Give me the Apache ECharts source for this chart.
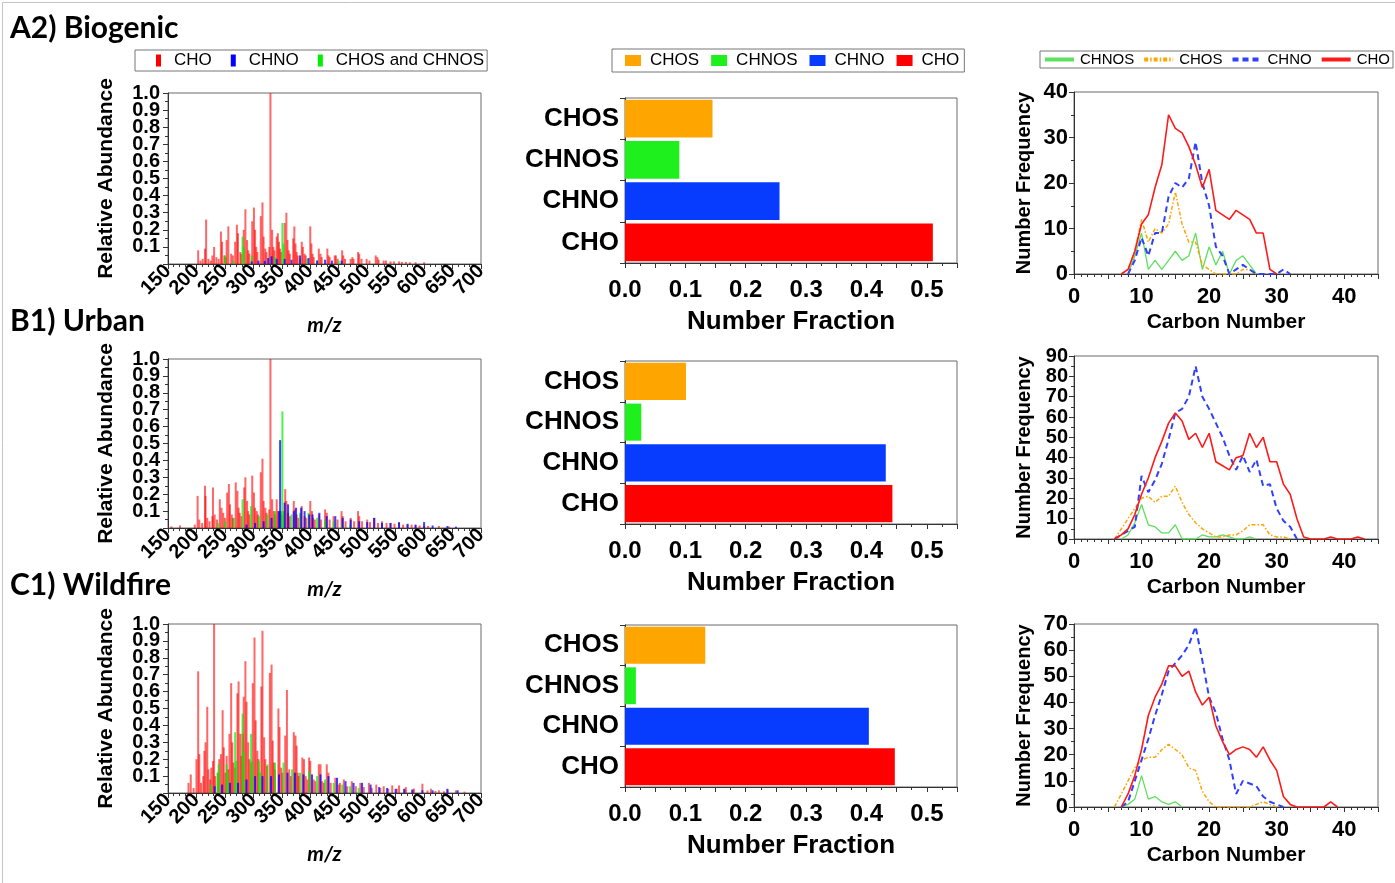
<!DOCTYPE html>
<html><head><meta charset="utf-8">
<script src="https://cdn.jsdelivr.net/npm/echarts@6/dist/echarts.min.js"></script>
<style>html,body{margin:0;padding:0;background:#fff}#c{width:1395px;height:883px}</style>
</head><body><div id="c"></div>
<script>
// ---------------- DATA ----------------
const panelTitles = ['A2) Biogenic', 'B1) Urban', 'C1) Wildfire'];
const specClasses = ['CHO', 'CHNO', 'CHOS and CHNOS'];
const barCategories = ['CHOS', 'CHNOS', 'CHNO', 'CHO'];
const lineClasses = ['CHNOS', 'CHOS', 'CHNO', 'CHO'];

// mass spectra: [m/z, relative abundance]
const specA2_CHO = [[203,0.08],[207,0.02],[211,0.03],[215,0.09],[217,0.26],[221,0.03],[225,0.02],[228,0.05],[231,0.10],[235,0.04],[239,0.03],[243,0.19],[245,0.13],[249,0.05],[251,0.04],[253,0.14],[256,0.22],[261,0.06],[264,0.05],[268,0.13],[271,0.23],[273,0.18],[277,0.07],[279,0.06],[283,0.20],[286,0.32],[289,0.14],[291,0.08],[293,0.06],[298,0.25],[301,0.33],[303,0.20],[305,0.10],[307,0.07],[313,0.28],[316,0.36],[318,0.16],[321,0.09],[323,0.07],[328,0.10],[330,1.00],[333,0.20],[335,0.10],[337,0.08],[341,0.16],[343,0.18],[345,0.13],[347,0.09],[349,0.07],[355,0.24],[358,0.30],[360,0.14],[362,0.08],[364,0.06],[370,0.15],[372,0.22],[374,0.12],[376,0.07],[378,0.05],[385,0.13],[387,0.10],[390,0.06],[392,0.05],[400,0.22],[402,0.12],[404,0.06],[406,0.04],[415,0.09],[418,0.06],[420,0.04],[430,0.09],[432,0.05],[434,0.04],[443,0.05],[445,0.05],[448,0.03],[456,0.08],[458,0.05],[461,0.03],[471,0.03],[474,0.04],[476,0.03],[484,0.07],[486,0.06],[490,0.03],[499,0.03],[504,0.02],[515,0.05],[518,0.04],[520,0.025],[529,0.02],[533,0.02],[541,0.015],[547,0.015],[556,0.015],[561,0.012],[568,0.012],[575,0.01],[585,0.01],[600,0.01]];
const specA2_CHNO = [[297,0.015],[309,0.02],[320,0.018],[326,0.035],[332,0.045],[341,0.03],[355,0.03],[367,0.025],[382,0.05],[397,0.035],[412,0.02],[426,0.025],[438,0.02],[455,0.02]];
const specA2_S = [[250,0.05],[265,0.02],[281,0.16],[283,0.10],[297,0.05],[338,0.04],[351,0.24],[353,0.12],[382,0.03],[395,0.03],[412,0.02],[450,0.02]];

const specB1_CHO = [[156,0.01],[171,0.015],[197,0.02],[202,0.19],[205,0.05],[210,0.03],[215,0.25],[216,0.19],[219,0.06],[223,0.04],[228,0.07],[229,0.24],[232,0.08],[236,0.05],[241,0.17],[244,0.12],[247,0.09],[250,0.06],[254,0.21],[257,0.26],[259,0.14],[262,0.08],[264,0.06],[269,0.27],[272,0.22],[274,0.12],[276,0.09],[279,0.07],[284,0.24],[286,0.30],[289,0.16],[291,0.10],[293,0.08],[298,0.31],[301,0.21],[303,0.12],[306,0.10],[308,0.08],[313,0.33],[316,0.41],[318,0.16],[321,0.12],[323,0.09],[328,0.11],[330,1.00],[333,0.17],[336,0.10],[338,0.08],[341,0.17],[343,0.10],[347,0.10],[350,0.08],[356,0.23],[358,0.16],[361,0.09],[364,0.07],[371,0.16],[373,0.11],[376,0.08],[379,0.06],[385,0.13],[390,0.07],[393,0.06],[400,0.16],[403,0.10],[405,0.06],[408,0.05],[415,0.08],[419,0.05],[426,0.11],[429,0.09],[434,0.05],[441,0.07],[448,0.05],[455,0.10],[457,0.07],[462,0.04],[471,0.06],[477,0.04],[484,0.10],[486,0.07],[491,0.04],[500,0.05],[505,0.035],[513,0.06],[519,0.03],[526,0.04],[534,0.03],[541,0.03],[548,0.025],[556,0.03],[563,0.02],[571,0.02],[578,0.02],[585,0.016],[592,0.015],[600,0.012],[607,0.012],[626,0.012],[644,0.008]];
const specB1_CHNO = [[288,0.02],[303,0.03],[318,0.04],[332,0.06],[345,0.10],[347,0.52],[355,0.15],[361,0.14],[371,0.10],[375,0.12],[384,0.12],[390,0.10],[398,0.08],[404,0.08],[416,0.09],[429,0.07],[444,0.07],[457,0.06],[471,0.05],[486,0.04],[500,0.035],[512,0.06],[526,0.03],[541,0.03],[556,0.035],[571,0.025],[585,0.02],[600,0.035],[615,0.015],[641,0.012],[656,0.008]];
const specB1_S = [[238,0.03],[251,0.04],[266,0.06],[281,0.17],[296,0.13],[310,0.07],[325,0.08],[338,0.10],[349,0.10],[351,0.69],[353,0.10],[367,0.08],[382,0.09],[397,0.09],[412,0.06],[426,0.05],[441,0.04],[456,0.03],[470,0.02]];

const specC1_CHO = [[186,0.06],[190,0.11],[195,0.03],[200,0.20],[203,0.72],[205,0.23],[208,0.06],[212,0.10],[214,0.25],[216,0.30],[219,0.51],[221,0.14],[224,0.08],[226,0.15],[229,0.19],[231,1.00],[233,0.10],[238,0.12],[240,0.20],[243,0.23],[246,0.49],[248,0.27],[251,0.12],[253,0.22],[256,0.14],[258,0.35],[261,0.65],[263,0.30],[265,0.18],[268,0.15],[272,0.59],[274,0.66],[277,0.35],[279,0.22],[281,0.35],[283,0.57],[286,0.78],[288,0.54],[291,0.30],[293,0.20],[296,0.18],[299,0.65],[302,0.92],[304,0.43],[307,0.25],[309,0.20],[314,0.63],[316,0.96],[319,0.33],[321,0.20],[324,0.16],[329,0.71],[332,0.76],[334,0.31],[336,0.18],[338,0.14],[344,0.50],[346,0.39],[349,0.15],[351,0.12],[356,0.34],[359,0.61],[363,0.14],[366,0.10],[371,0.36],[374,0.34],[376,0.28],[378,0.12],[380,0.10],[386,0.21],[389,0.20],[392,0.10],[395,0.08],[398,0.21],[400,0.19],[406,0.08],[409,0.07],[415,0.17],[418,0.17],[421,0.07],[424,0.06],[429,0.17],[432,0.12],[436,0.06],[444,0.09],[450,0.05],[452,0.06],[459,0.08],[465,0.04],[473,0.07],[480,0.04],[488,0.06],[494,0.035],[503,0.06],[508,0.03],[516,0.05],[523,0.03],[529,0.04],[537,0.025],[544,0.045],[552,0.025],[556,0.045],[566,0.02],[568,0.035],[581,0.02],[582,0.026],[597,0.055],[606,0.015],[612,0.025],[620,0.012],[626,0.016],[635,0.01],[641,0.02],[656,0.016],[671,0.008]];
const specC1_CHNO = [[232,0.04],[245,0.05],[259,0.06],[273,0.06],[288,0.08],[303,0.10],[316,0.10],[331,0.10],[345,0.11],[360,0.12],[373,0.12],[388,0.11],[403,0.11],[418,0.11],[432,0.10],[447,0.09],[462,0.07],[476,0.06],[491,0.06],[506,0.05],[521,0.035],[535,0.03],[550,0.025],[565,0.025],[579,0.02],[597,0.016],[615,0.016],[641,0.025],[659,0.016]];
const specC1_S = [[225,0.05],[237,0.12],[239,0.17],[253,0.17],[255,0.12],[268,0.36],[270,0.19],[281,0.47],[283,0.24],[296,0.35],[298,0.19],[310,0.19],[312,0.12],[325,0.17],[338,0.18],[353,0.18],[368,0.14],[382,0.12],[398,0.13],[412,0.10],[426,0.08],[441,0.06],[456,0.05],[470,0.04],[485,0.03]];

// number fraction, order = barCategories
const fracA2 = [0.145, 0.090, 0.256, 0.510];
const fracB1 = [0.101, 0.027, 0.432, 0.443];
const fracC1 = [0.133, 0.018, 0.404, 0.447];

// carbon number distributions: [carbon number, frequency]
const freqA2_CHO = [[7,0],[8,1],[9,5],[10,11],[11,13],[12,19],[13,24],[14,35],[15,32],[16,31],[17,28],[18,24],[19,19],[20,23],[21,14],[22,13],[23,12],[24,14],[25,13],[26,12],[27,9],[28,9],[29,1],[30,0]];
const freqA2_CHNO = [[8,0],[9,3],[10,8],[11,4],[12,9],[13,9],[14,17],[15,20],[16,19],[17,21],[18,29],[19,20],[20,15],[21,6],[22,4],[23,0],[24,1],[25,2],[26,1],[27,0],[28,0],[29,0],[30,0],[31,1],[32,0]];
const freqA2_CHOS = [[7,0],[8,1],[9,5],[10,12],[11,7],[12,10],[13,9],[14,11],[15,18],[16,11],[17,7],[18,7],[19,2],[20,1],[21,0],[22,0],[23,0],[24,0],[25,1],[26,1],[27,0]];
const freqA2_CHNOS = [[8,0],[9,4],[10,9],[11,1],[12,3],[13,1],[14,3],[15,5],[16,3],[17,4],[18,9],[19,1],[20,6],[21,2],[22,5],[23,0],[24,3],[25,4],[26,2],[27,0]];

const freqB1_CHO = [[6,0],[7,2],[8,5],[9,12],[10,22],[11,30],[12,40],[13,48],[14,57],[15,62],[16,58],[17,49],[18,52],[19,45],[20,52],[21,38],[22,36],[23,34],[24,40],[25,41],[26,52],[27,45],[28,50],[29,38],[30,38],[31,27],[32,22],[33,10],[34,1],[35,0],[36,0],[37,0],[38,1],[39,0],[40,0],[41,0],[42,1],[43,0]];
const freqB1_CHNO = [[6,0],[7,2],[8,4],[9,6],[10,31],[11,23],[12,29],[13,37],[14,49],[15,62],[16,64],[17,70],[18,85],[19,70],[20,64],[21,57],[22,50],[23,41],[24,34],[25,41],[26,33],[27,39],[28,26],[29,27],[30,15],[31,9],[32,6],[33,0]];
const freqB1_CHOS = [[6,0],[7,5],[8,10],[9,15],[10,20],[11,21],[12,18],[13,21],[14,21],[15,26],[16,18],[17,12],[18,8],[19,5],[20,3],[21,1],[22,1],[23,2],[24,2],[25,4],[26,7],[27,7],[28,7],[29,2],[30,1],[31,1],[32,0]];
const freqB1_CHNOS = [[7,0],[8,2],[9,8],[10,17],[11,7],[12,6],[13,3],[14,3],[15,7],[16,0],[17,0],[18,0],[19,2],[20,1],[21,1],[22,2],[23,1],[24,0],[25,0],[26,1],[27,0]];

const freqC1_CHO = [[7,0],[8,5],[9,12],[10,22],[11,35],[12,42],[13,47],[14,54],[15,54],[16,50],[17,52],[18,44],[19,39],[20,42],[21,31],[22,25],[23,20],[24,22],[25,23],[26,22],[27,19],[28,23],[29,18],[30,14],[31,4],[32,1],[33,0],[34,0],[35,0],[36,0],[37,0],[38,2],[39,0]];
const freqC1_CHNO = [[7,0],[8,2],[9,10],[10,18],[11,26],[12,35],[13,43],[14,52],[15,55],[16,58],[17,62],[18,69],[19,56],[20,42],[21,36],[22,26],[23,18],[24,5],[25,10],[26,9],[27,8],[28,4],[29,2],[30,1],[31,0]];
const freqC1_CHOS = [[6,0],[7,5],[8,10],[9,15],[10,18],[11,19],[12,19],[13,22],[14,24],[15,22],[16,20],[17,15],[18,14],[19,6],[20,2],[21,0],[22,0],[23,0],[24,0],[25,0],[26,0],[27,1],[28,2],[29,1],[30,0]];
const freqC1_CHNOS = [[7,0],[8,1],[9,3],[10,12],[11,3],[12,4],[13,2],[14,1],[15,2],[16,0]];

const freqMax = [40, 90, 70];

// ---------------- BUILD ----------------
const specData = [[specA2_CHO, specA2_S, specA2_CHNO], [specB1_CHO, specB1_S, specB1_CHNO], [specC1_CHO, specC1_S, specC1_CHNO]];
const specNames = ['CHO', 'CHOS and CHNOS', 'CHNO'];
const specColors = {'CHO': '#ff0000', 'CHNO': '#0000ff', 'CHOS and CHNOS': '#00ee00'};
const specOpacity = {'CHO': 0.6, 'CHNO': 0.75, 'CHOS and CHNOS': 0.7};
const fracData = [fracA2, fracB1, fracC1];
const barColors = {'CHOS': '#ffa500', 'CHNOS': '#1ef01e', 'CHNO': '#073cff', 'CHO': '#ff0000'};
const freqData = [[freqA2_CHNOS, freqA2_CHOS, freqA2_CHNO, freqA2_CHO], [freqB1_CHNOS, freqB1_CHOS, freqB1_CHNO, freqB1_CHO], [freqC1_CHNOS, freqC1_CHOS, freqC1_CHNO, freqC1_CHO]];
const lineStyles = {
  'CHNOS': {color: '#5fe05f', width: 1.3, type: 'solid'},
  'CHOS': {color: '#ffa500', width: 1.5, type: [4, 2, 1.5, 2]},
  'CHNO': {color: '#3040ff', width: 2, type: [6, 4]},
  'CHO': {color: '#ff1a1a', width: 1.6, type: 'solid'}
};

// layout
const rowTops = [[93, 98, 92], [359, 361, 356], [624, 625, 624]];
const rowHeights = [[171, 165, 182], [169, 163, 183], [169, 162, 183]];
const colLeft = [168, 625, 1074];
const colWidth = [313, 332, 304];
const titleY = [28, 321, 585];
const freqLabelSize = [22, 20, 22];

const SANS = 'Liberation Sans, Arial, sans-serif';
const AX = '#333';
const EPS = 1e-4; // tiny headroom so the top tick is an ordinary (always shown) tick

const grids = [], xAxes = [], yAxes = [], series = [], graphics = [];

const axisCommon = () => ({
  axisLine: {show: true, onZero: false, lineStyle: {color: AX, width: 1}},
  axisTick: {show: true, inside: false, length: 5, lineStyle: {color: AX}},
  splitLine: {show: false},
});
const lbl = (o) => Object.assign({hideOverlap: false, color: '#000', fontFamily: SANS, fontWeight: 'bold'}, o);

for (let r = 0; r < 3; r++) {
  for (let c = 0; c < 3; c++) {
    const g = r * 3 + c;
    grids.push({left: colLeft[c], top: rowTops[r][c], width: colWidth[c], height: rowHeights[r][c],
      show: true, borderColor: '#6a6a6a', borderWidth: 1, backgroundColor: '#fff', containLabel: false});
  }
  // ---- column 1: spectrum
  let g = r * 3;
  xAxes.push(Object.assign(axisCommon(), {
    type: 'value', gridIndex: g, min: 150, max: 700, interval: 50,
    minorTick: {show: true, splitNumber: 5, length: 3, lineStyle: {color: AX}},
    axisLabel: lbl({rotate: 45, margin: 4, fontSize: 20, showMinLabel: true, showMaxLabel: true}),
    name: 'm/z', nameLocation: 'middle', nameGap: 51,
    nameTextStyle: {fontFamily: 'Lato, sans-serif', fontStyle: 'italic', fontWeight: 'bold', fontSize: 21, color: '#000'}
  }));
  yAxes.push(Object.assign(axisCommon(), {
    type: 'value', gridIndex: g, min: 0, max: 1 + EPS, interval: 0.1,
    minorTick: {show: true, splitNumber: 2, length: 3, lineStyle: {color: AX}},
    axisLabel: lbl({margin: 8, fontSize: 20,
      formatter: v => (v < 0.05 || v > 1 + EPS / 2) ? '' : v.toFixed(1)}),
    name: 'Relative Abundance', nameLocation: 'middle', nameGap: 51,
    nameTextStyle: {fontFamily: SANS, fontWeight: 'bold', fontSize: 21, color: '#000'}
  }));
  specData[r].forEach((arr, k) => {
    const nm = specNames[k];
    series.push({
      type: 'custom', name: nm + '|s', coordinateSystem: 'cartesian2d', xAxisIndex: g, yAxisIndex: g,
      data: arr, encode: {x: 0, y: 1}, itemStyle: {color: specColors[nm]}, silent: true,
      renderItem: (params, api) => {
        const top = api.coord([api.value(0), api.value(1)]);
        const base = api.coord([api.value(0), 0]);
        return {type: 'line', shape: {x1: top[0], y1: top[1], x2: base[0], y2: base[1]},
          style: {stroke: specColors[nm], lineWidth: 2, opacity: specOpacity[nm]}};
      }
    });
  });
  // ---- column 2: bars
  g = r * 3 + 1;
  xAxes.push(Object.assign(axisCommon(), {
    type: 'value', gridIndex: g, min: 0, max: 0.55, interval: 0.05,
    minorTick: {show: true, splitNumber: 2, length: 3, lineStyle: {color: AX}},
    axisLabel: lbl({margin: 15, fontSize: 24, showMinLabel: true,
      formatter: v => (Math.round(v * 100) % 10 === 0) ? v.toFixed(1) : ''}),
    name: 'Number Fraction', nameLocation: 'middle', nameGap: 46,
    nameTextStyle: {fontFamily: SANS, fontWeight: 'bold', fontSize: 26, color: '#000'}
  }));
  yAxes.push(Object.assign(axisCommon(), {
    type: 'category', gridIndex: g, inverse: true, data: barCategories,
    axisTick: {show: true, length: 5, lineStyle: {color: AX}},
    axisLabel: lbl({margin: 6, fontSize: 26, interval: 0, padding: [4, 0, 0, 0], showMinLabel: true, showMaxLabel: true})
  }));
  barCategories.forEach((cat, i) => {
    series.push({
      type: 'bar', name: cat + '|b', xAxisIndex: g, yAxisIndex: g,
      data: fracData[r].map((v, j) => j === i ? v : '-'),
      barGap: '-100%', barCategoryGap: '9%', itemStyle: {color: barColors[cat]}, silent: true
    });
  });
  // ---- column 3: carbon number lines
  g = r * 3 + 2;
  xAxes.push(Object.assign(axisCommon(), {
    type: 'value', gridIndex: g, min: 0, max: 45, interval: 5,
    minorTick: {show: true, splitNumber: 5, length: 3, lineStyle: {color: AX}},
    axisLabel: lbl({margin: 12, fontSize: 22, showMinLabel: true, formatter: v => v % 10 === 0 ? String(v) : ''}),
    name: 'Carbon Number', nameLocation: 'middle', nameGap: 38,
    nameTextStyle: {fontFamily: SANS, fontWeight: 'bold', fontSize: 21, color: '#000'}
  }));
  yAxes.push(Object.assign(axisCommon(), {
    type: 'value', gridIndex: g, min: 0, max: freqMax[r] + EPS, interval: 10,
    minorTick: {show: true, splitNumber: 2, length: 3, lineStyle: {color: AX}},
    axisLabel: lbl({margin: 6, fontSize: freqLabelSize[r], showMinLabel: true,
      formatter: v => v > freqMax[r] + EPS / 2 ? '' : String(Math.round(v))}),
    name: 'Number Frequency', nameLocation: 'middle', nameGap: 40,
    nameTextStyle: {fontFamily: SANS, fontWeight: 'bold', fontSize: 20, color: '#000'}
  }));
  lineClasses.forEach((cl, k) => {
    const ls = lineStyles[cl];
    series.push({
      type: 'line', name: cl + '|l', xAxisIndex: g, yAxisIndex: g, data: freqData[r][k],
      symbol: 'none', lineStyle: {color: ls.color, width: ls.width, type: ls.type},
      itemStyle: {color: ls.color}, silent: true, z: 3 + k
    });
  });
  graphics.push({type: 'text', x: 10, y: titleY[r],
    style: {text: panelTitles[r], fill: '#000', font: 'bold 30px Lato, sans-serif', verticalAlign: 'middle'}});
}

graphics.push({type: 'polyline', shape: {points: [[2.5, 883], [2.5, 2.5], [1395, 2.5]]},
  style: {stroke: '#c4c4c4', lineWidth: 1, fill: 'none'}});

const legendBase = {orient: 'horizontal', borderColor: '#777', borderWidth: 1, backgroundColor: '#fff',
  selectedMode: false, width: 420, formatter: n => n.split('|')[0]};

const legends = [
  Object.assign({}, legendBase, {
    left: 135, top: 50, padding: [2, 3, 2, 21], itemGap: 19, itemWidth: 5, itemHeight: 12,
    textStyle: {fontFamily: SANS, fontSize: 17, color: '#000', padding: [0, 0, 0, 8]},
    data: specClasses.map(n => ({name: n + '|s', icon: 'rect'}))
  }),
  Object.assign({}, legendBase, {
    left: 612, top: 49, padding: [3, 5, 3, 13], itemGap: 12, itemWidth: 16, itemHeight: 11,
    textStyle: {fontFamily: SANS, fontSize: 17, color: '#000', padding: [0, 0, 0, 4]},
    data: barCategories.map(n => ({name: n + '|b', icon: 'rect'}))
  }),
  Object.assign({}, legendBase, {
    left: 1040, top: 51, padding: [1, 3, 1, 3], itemGap: 8, itemWidth: 29, itemHeight: 12,
    textStyle: {fontFamily: SANS, fontSize: 15, color: '#000', padding: [0, 0, 0, 1]},
    itemStyle: {opacity: 0}, lineStyle: {width: 4},
    data: lineClasses.map(n => ({name: n + '|l'}))
  })
];

const chart = echarts.init(document.getElementById('c'), null, {renderer: 'canvas', width: 1395, height: 883});
chart.setOption({
  animation: false,
  backgroundColor: '#fff',
  grid: grids, xAxis: xAxes, yAxis: yAxes, series: series,
  legend: legends, graphic: graphics
});
</script></body></html>
